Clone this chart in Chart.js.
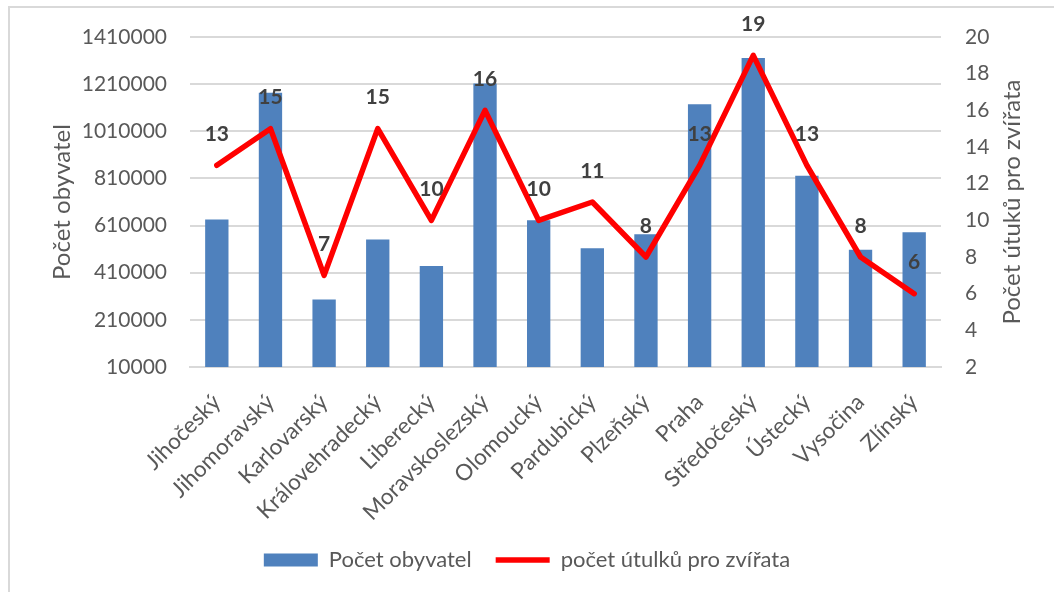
<!DOCTYPE html>
<html>
<head>
<meta charset="utf-8">
<script src="https://cdn.jsdelivr.net/npm/chart.js@4.4.1/dist/chart.umd.min.js"></script>
<style>
  html, body { margin: 0; padding: 0; background: #fff; }
  #wrap { position: relative; width: 1054px; height: 592px; overflow: hidden; }
  #frame { position: absolute; left: 8px; top: 6px; width: 2000px; height: 2000px;
           border-left: 2px solid #d9d9d9; border-top: 2px solid #d9d9d9; }
  canvas { position: absolute; left: 0; top: 0; }
</style>
</head>
<body>
<div id="wrap">
  <div id="frame"></div>
  <canvas id="c" width="1054" height="592"></canvas>
</div>
<script>
const categories = ["Jihočeský", "Jihomoravský", "Karlovarský", "Královehradecký", "Liberecký",
  "Moravskoslezský", "Olomoucký", "Pardubický", "Plzeňský", "Praha", "Středočeský",
  "Ústecký", "Vysočina", "Zlínský"];
const population = [636000, 1174000, 296000, 551000, 438000, 1213000, 633000, 514000,
  573000, 1125000, 1321000, 821000, 507000, 582000];
const shelters = [13, 15, 7, 15, 10, 16, 10, 11, 8, 13, 19, 13, 8, 6];
const seriesNames = ["Počet obyvatel", "počet útulků pro zvířata"];
const leftTitle = "Počet obyvatel";
const rightTitle = "Počet útuků pro zvířata";

const FONT = "Lato";
const TXT = "#595959";

const labelPlugin = {
  id: "lineLabels",
  afterDatasetsDraw(chart) {
    const meta = chart.getDatasetMeta(1);
    const ctx = chart.ctx;
    ctx.save();
    ctx.font = "bold 21px " + FONT;
    ctx.fillStyle = "#404040";
    ctx.textAlign = "center";
    ctx.textBaseline = "middle";
    meta.data.forEach((pt, i) => {
      ctx.fillText(String(shelters[i]), pt.x, pt.y - 31);
    });
    ctx.restore();
  }
};

const rightTitlePlugin = {
  id: "rightTitle",
  afterDraw(chart) {
    const ctx = chart.ctx;
    const a = chart.chartArea;
    ctx.save();
    ctx.translate(1012, (a.top + a.bottom) / 2);
    ctx.rotate(-Math.PI / 2);
    ctx.font = "24px " + FONT;
    ctx.fillStyle = TXT;
    ctx.textAlign = "center";
    ctx.textBaseline = "middle";
    ctx.fillText(rightTitle, 0, 0);
    ctx.restore();
  }
};

new Chart(document.getElementById("c"), {
  data: {
    labels: categories,
    datasets: [
      {
        type: "bar",
        label: seriesNames[0],
        data: population,
        backgroundColor: "#4f81bd",
        borderWidth: 0,
        yAxisID: "y",
        order: 2,
        barPercentage: 0.87,
        categoryPercentage: 0.5,
        pointStyle: "rect"
      },
      {
        type: "line",
        label: seriesNames[1],
        data: shelters,
        borderColor: "#ff0000",
        backgroundColor: "#ff0000",
        borderWidth: 5.5,
        pointRadius: 0,
        tension: 0,
        borderCapStyle: "round",
        borderJoinStyle: "round",
        yAxisID: "y1",
        order: 1,
        pointStyle: "line"
      }
    ]
  },
  options: {
    responsive: false,
    animation: false,
    layout: { padding: { top: 37, left: 0, right: 0, bottom: 11 } },
    plugins: {
      legend: {
        position: "bottom",
        labels: {
          usePointStyle: true,
          pointStyleWidth: 54,
          boxHeight: 13,
          padding: 24,
          color: TXT,
          font: { family: FONT, size: 22 },
          sort: (a, b) => a.datasetIndex - b.datasetIndex
        }
      },
      tooltip: { enabled: false }
    },
    scales: {
      x: {
        grid: { display: false },
        border: { display: true, color: "#d9d9d9", width: 2 },
        ticks: {
          color: TXT, font: { family: FONT, size: 22.5 },
          minRotation: 45, maxRotation: 45, padding: 14, autoSkip: false
        },
        afterFit(s) { s.height = 158; }
      },
      y: {
        position: "left",
        min: 10000, max: 1410000,
        grid: { color: "#d9d9d9", lineWidth: 2, drawTicks: false },
        border: { display: false },
        ticks: {
          stepSize: 200000, padding: 23, color: TXT,
          font: { family: FONT, size: 21 },
          callback: v => String(v)
        },
        title: {
          display: true, text: leftTitle, color: TXT,
          font: { family: FONT, size: 24 },
          padding: { top: 48, bottom: 0 }
        },
        afterFit(s) { s.width = 190; }
      },
      y1: {
        position: "right",
        min: 2, max: 20,
        grid: { drawOnChartArea: false, drawTicks: false },
        border: { display: false },
        ticks: {
          stepSize: 2, padding: 24, color: TXT,
          font: { family: FONT, size: 21 }
        },
        afterFit(s) { s.width = 113; }
      }
    }
  },
  plugins: [labelPlugin, rightTitlePlugin]
});
</script>
</body>
</html>
